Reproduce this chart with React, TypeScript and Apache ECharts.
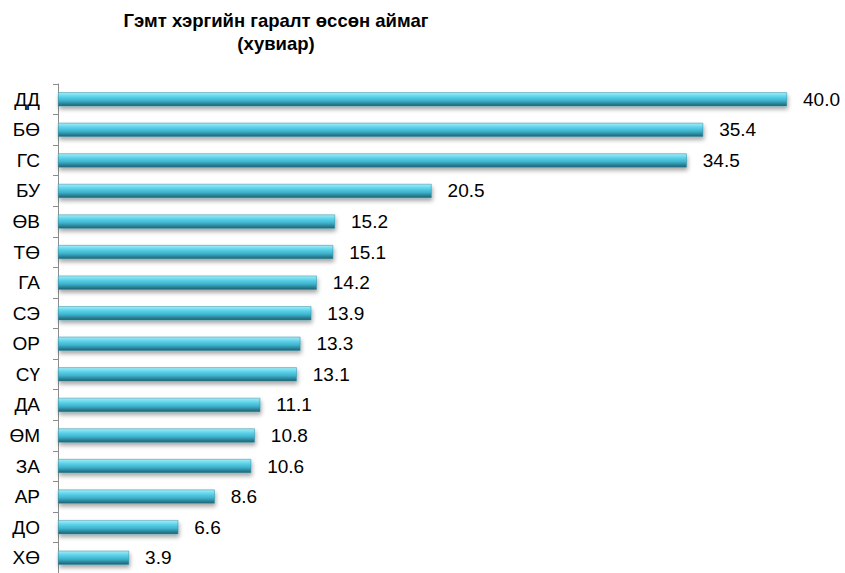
import React, { useEffect, useRef } from "react";
import * as echarts from "echarts";

const titleText = "Гэмт хэргийн гаралт өссөн аймаг\n(хувиар)";
const categories = ["ДД", "БӨ", "ГС", "БУ", "ӨВ", "ТӨ", "ГА", "СЭ", "ОР", "СҮ", "ДА", "ӨМ", "ЗА", "АР", "ДО", "ХӨ"];
const values = [40.0, 35.4, 34.5, 20.5, 15.2, 15.1, 14.2, 13.9, 13.3, 13.1, 11.1, 10.8, 10.6, 8.6, 6.6, 3.9];

export default function App() {
  const ref = useRef<HTMLDivElement>(null);
  useEffect(() => {
    if (!ref.current) return;
    const chart = echarts.init(ref.current, null, { renderer: "svg" });
    const font = "'Liberation Sans', Arial, sans-serif";
    chart.setOption({
      animation: false,
      backgroundColor: "#ffffff",
      textStyle: { fontFamily: font },
      title: {
        text: titleText,
        left: 271,
        top: 4,
        textAlign: "center",
        textStyle: { fontSize: 18.5, fontWeight: "bold", color: "#000", lineHeight: 23, fontFamily: font },
      },
      grid: { left: 58, right: 58, top: 84, bottom: -8, containLabel: false },
      xAxis: {
        type: "value",
        min: 0,
        max: 40,
        show: false,
        splitLine: { show: false },
      },
      yAxis: {
        type: "category",
        data: categories,
        inverse: true,
        axisLine: { show: true, lineStyle: { color: "#8c8c8c", width: 1 } },
        axisTick: { show: true, length: 5, lineStyle: { color: "#8c8c8c" } },
        axisLabel: { color: "#000", fontSize: 19, margin: 18, fontFamily: font },
      },
      series: [
        {
          type: "bar",
          data: values,
          barWidth: 14,
          itemStyle: {
            color: new echarts.graphic.LinearGradient(0, 0, 0, 1, [
              { offset: 0, color: "#a6ecf7" },
              { offset: 0.3, color: "#5dd3ea" },
              { offset: 0.6, color: "#3db3cd" },
              { offset: 1, color: "#1f5f70" },
            ]),
            borderColor: "#2f8ea5",
            borderWidth: 0.5,
            shadowColor: "rgba(0,0,0,0.35)",
            shadowBlur: 4,
            shadowOffsetY: 3,
            shadowOffsetX: 1,
          },
          label: {
            show: true,
            position: "right",
            distance: 16,
            color: "#000",
            fontSize: 19,
            fontFamily: font,
            formatter: (p: any) => Number(p.value).toFixed(1),
          },
        },
      ],
    });
    return () => chart.dispose();
  }, []);
  return (
    <div style={{ position: "absolute", left: 0, top: 0, width: 845, height: 573, overflow: "hidden" }}>
      <div ref={ref} style={{ width: 845, height: 573 }} />
    </div>
  );
}
